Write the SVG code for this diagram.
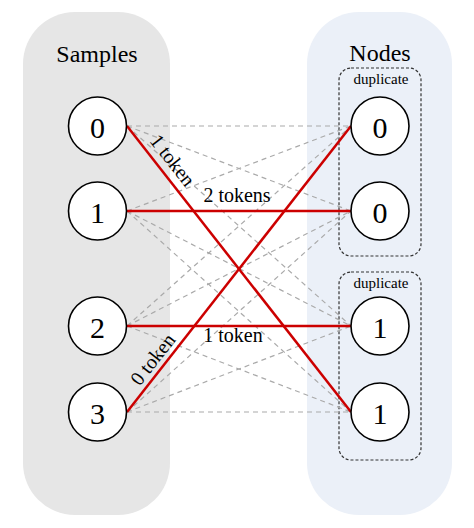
<svg xmlns="http://www.w3.org/2000/svg" width="474" height="528" viewBox="0 0 474 528" font-family="'Times New Roman', 'Liberation Serif', 'DejaVu Serif', serif">
<style>
text{fill:#000}
.title{font-size:24px;text-anchor:middle}
.num{font-size:30px;text-anchor:middle;dominant-baseline:central}
.lbl{font-size:20px;text-anchor:middle}
.dup{font-size:15px;text-anchor:middle}
.node circle{fill:#fff;stroke:#000;stroke-width:1.6}
.g{stroke:#aaaaaa;stroke-width:1.2;stroke-dasharray:5 4;fill:none}
.r{stroke:#cc0000;stroke-width:2.5;fill:none}
.box{fill:none;stroke:#333;stroke-width:1.2;stroke-dasharray:3 2}
</style>
<g id="panel-samples">
<rect x="23" y="12" width="147" height="503" rx="52" ry="52" fill="#e6e6e6"/>
<text class="title" x="97" y="62">Samples</text>
</g>
<g id="panel-nodes">
<rect x="307" y="12" width="145" height="503" rx="52" ry="52" fill="#ebf0f8"/>
<text class="title" x="380" y="61">Nodes</text>
</g>
<g id="dup-0">
<rect class="box" x="339" y="68" width="82" height="188" rx="12"/>
<text class="dup" x="381" y="84">duplicate</text>
</g>
<g id="dup-1">
<rect class="box" x="339" y="272" width="82" height="188" rx="12"/>
<text class="dup" x="381" y="288">duplicate</text>
</g>
<g id="connectors">
<line class="g" x1="127" y1="126" x2="351" y2="126"/>
<line class="g" x1="127" y1="126" x2="351" y2="211"/>
<line class="g" x1="127" y1="126" x2="351" y2="326"/>
<line class="g" x1="127" y1="211" x2="351" y2="126"/>
<line class="g" x1="127" y1="211" x2="351" y2="326"/>
<line class="g" x1="127" y1="211" x2="351" y2="412"/>
<line class="g" x1="127" y1="326" x2="351" y2="126"/>
<line class="g" x1="127" y1="326" x2="351" y2="211"/>
<line class="g" x1="127" y1="326" x2="351" y2="412"/>
<line class="g" x1="127" y1="412" x2="351" y2="211"/>
<line class="g" x1="127" y1="412" x2="351" y2="326"/>
<line class="g" x1="127" y1="412" x2="351" y2="412"/>
<line class="r" x1="127" y1="126" x2="351" y2="412"/>
<line class="r" x1="127" y1="211" x2="351" y2="211"/>
<line class="r" x1="127" y1="326" x2="351" y2="326"/>
<line class="r" x1="127" y1="412" x2="351" y2="126"/>
<text class="lbl" transform="translate(161,169.3) rotate(51.9)" x="0" y="-8">1 token</text>
<text class="lbl" x="237" y="202">2 tokens</text>
<text class="lbl" x="233" y="342">1 token</text>
<text class="lbl" transform="translate(162.4,366.8) rotate(-51.9)" x="0" y="-5.5">0 token</text>
</g>
<g id="sample-0" class="node"><circle cx="97.5" cy="126" r="29"/><text class="num" x="97.5" y="127">0</text></g>
<g id="sample-1" class="node"><circle cx="97.5" cy="211" r="29"/><text class="num" x="97.5" y="212">1</text></g>
<g id="sample-2" class="node"><circle cx="97.5" cy="326" r="29"/><text class="num" x="97.5" y="327">2</text></g>
<g id="sample-3" class="node"><circle cx="97.5" cy="412" r="29"/><text class="num" x="97.5" y="413">3</text></g>
<g id="node-0a" class="node"><circle cx="380" cy="126" r="29"/><text class="num" x="380" y="127">0</text></g>
<g id="node-0b" class="node"><circle cx="380" cy="211" r="29"/><text class="num" x="380" y="212">0</text></g>
<g id="node-1a" class="node"><circle cx="380" cy="326" r="29"/><text class="num" x="380" y="327">1</text></g>
<g id="node-1b" class="node"><circle cx="380" cy="412" r="29"/><text class="num" x="380" y="413">1</text></g>
</svg>
